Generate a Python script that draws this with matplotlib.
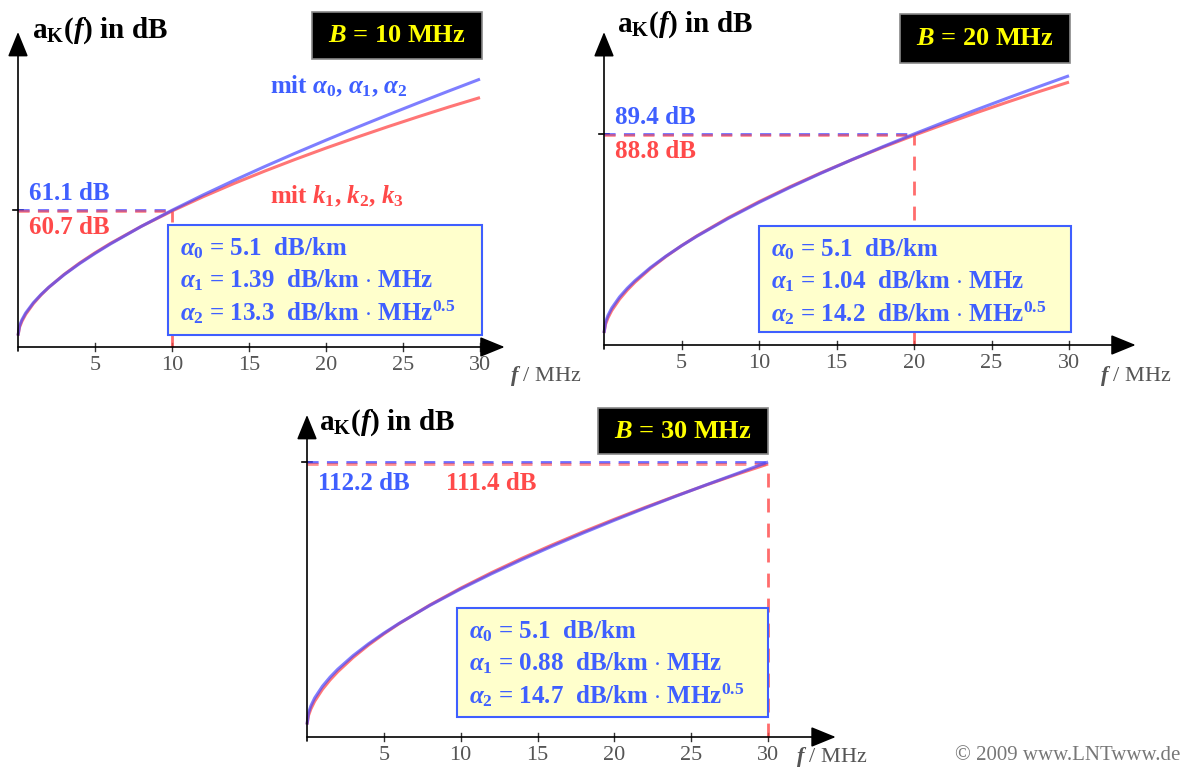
import matplotlib
matplotlib.use('Agg')
import matplotlib.pyplot as plt
from matplotlib.patches import Rectangle

plt.rcParams['font.family'] = 'Liberation Serif'
plt.rcParams['mathtext.fontset'] = 'custom'
plt.rcParams['mathtext.rm'] = 'Liberation Serif:bold'
plt.rcParams['mathtext.it'] = 'Liberation Serif:italic:bold'
plt.rcParams['mathtext.bf'] = 'Liberation Serif:bold'

W, H = 1183, 771

# frequency grid in MHz and attenuation in dB
f = [0, 0.1, 0.25, 0.5, 1, 1.5, 2, 3, 4, 5, 6, 8, 10, 12, 14, 16, 18, 20, 22, 24, 26, 28, 30]
a_red = [5.10, 8.78, 11.41, 14.60, 19.40, 23.27, 26.63, 32.44, 37.50, 42.06, 46.26, 53.87, 60.73,
         67.05, 72.96, 78.51, 83.80, 88.85, 93.68, 98.36, 102.87, 107.24, 111.4]
a_blue_10 = [5.10, 9.44, 12.10, 15.20, 19.79, 23.47, 26.69, 32.31, 37.26, 41.79, 46.02, 53.84, 61.06,
             67.85, 74.32, 80.54, 86.55, 92.38, 98.06, 103.62, 109.06, 114.40, 119.65]
a_blue_20 = [5.10, 9.69, 12.46, 15.66, 20.34, 24.05, 27.26, 32.82, 37.66, 42.05, 46.12, 53.58, 60.40,
             66.77, 72.79, 78.54, 84.06, 89.40, 94.58, 99.63, 104.55, 109.36, 114.08]
a_blue_30 = [5.10, 9.84, 12.67, 15.93, 20.68, 24.42, 27.65, 33.20, 38.02, 42.37, 46.39, 53.72, 60.39,
             66.58, 72.42, 77.98, 83.31, 88.44, 93.41, 98.24, 102.94, 107.53, 112.2]

bandwidths = [10, 20, 30]
blue_at_B = [61.1, 89.4, 112.2]
red_at_B = [60.7, 88.8, 111.4]
alpha1 = ['1.39', '1.04', '0.88']
alpha2 = ['13.3', '14.2', '14.7']
tick_vals = [5, 10, 15, 20, 25, 30]

BLUE_LINE = '#4848ff'
RED_LINE = '#ff4848'
BLUE_TXT = '#3f5fff'
RED_TXT = '#ff4a4a'
GRAY = '#555555'

fig = plt.figure(figsize=(W / 100, H / 100), dpi=100)


def fx(x):
    return x / W


def fy(y):
    return 1 - y / H


def box(x0, y0, x1, y1, fc, ec, lw=1.2):
    r = Rectangle((fx(x0), fy(y1)), fx(x1 - x0), (y1 - y0) / H, transform=fig.transFigure,
                  facecolor=fc, edgecolor=ec, linewidth=lw, zorder=5)
    fig.add_artist(r)


def panel(ox, oy, sx, sy, tipx, tipy, blue, k, ylab_xy, bbox, ybox, lab_pos, flab_xy):
    xmax, ymax = tipx + 1, tipy + 4
    ax = fig.add_axes([fx(ox - 10), fy(oy + 12), (xmax * sx + 10) / W, (ymax * sy + 12) / H])
    ax.set_xlim(-10 / sx, xmax)
    ax.set_ylim(-12 / sy, ymax)
    ax.axis('off')

    ap = dict(arrowstyle='-|>,head_length=1.1,head_width=0.45', color='black', lw=1.2,
              mutation_scale=14, shrinkA=0, shrinkB=0)
    ax.annotate('', xy=(tipx, 0), xytext=(0, 0), arrowprops=ap)
    ax.annotate('', xy=(0, tipy), xytext=(0, -4 / sy), arrowprops=ap)

    for t in tick_vals:
        ax.plot([t, t], [-4 / sy, 4 / sy], color='#333333', lw=1)
        ax.text(t, -18 / sy, str(t), ha='center', va='center', fontsize=16, color=GRAY)

    B = bandwidths[k]
    vb, vr = blue_at_B[k], red_at_B[k]
    ax.plot([-5 / sx, 5 / sx], [vb, vb], color='black', lw=1.2)
    ax.plot([0, B], [vb, vb], color=BLUE_LINE, lw=2, ls=(0, (4, 3)), alpha=0.8)
    ax.plot([0, B], [vr, vr], color=RED_LINE, lw=2, ls=(0, (4, 3)), alpha=0.6)
    ax.plot([B, B], [0, vr], color=RED_LINE, lw=2, ls=(0, (5, 4)), alpha=0.8)

    ax.plot(f, a_red, color=RED_LINE, lw=2.2, alpha=0.75, solid_capstyle='butt')
    ax.plot(f, blue, color=BLUE_LINE, lw=2.2, alpha=0.7, solid_capstyle='butt')

    fig.text(fx(ylab_xy[0]), fy(ylab_xy[1]), r'a$_{\mathbf{K}}$($f$) in dB', fontsize=21,
             fontweight='bold', va='baseline')
    fig.text(fx(flab_xy[0]), fy(flab_xy[1]), r'$\mathit{f}$ / MHz', fontsize=16, color=GRAY,
             va='center')

    # black title box
    box(*bbox, fc='black', ec='#888888')
    fig.text(fx((bbox[0] + bbox[2]) / 2), fy((bbox[1] + bbox[3]) / 2), r'$B$ = %d MHz' % B,
             fontsize=19, fontweight='bold', color='#ffff00', ha='center', va='center', zorder=6)

    # parameter box
    box(*ybox, fc='#ffffcc', ec=BLUE_TXT, lw=1.5)
    lines = [r'$\alpha_0$ = 5.1  dB/km',
             r'$\alpha_1$ = %s  dB/km $\cdot$ MHz' % alpha1[k],
             r'$\alpha_2$ = %s  dB/km $\cdot$ MHz$^{0.5}$' % alpha2[k]]
    for i, s in enumerate(lines):
        fig.text(fx(ybox[0] + 12), fy(ybox[1] + 23 + 32 * i), s, fontsize=18, fontweight='bold',
                 color=BLUE_TXT, va='center', zorder=6)

    (bx, by), (rx, ry) = lab_pos
    fig.text(fx(bx), fy(by), '%.1f dB' % vb, fontsize=18, fontweight='bold', color=BLUE_TXT, va='center')
    fig.text(fx(rx), fy(ry), '%.1f dB' % vr, fontsize=18, fontweight='bold', color=RED_TXT, va='center')
    return ax


panel(18, 347, 15.4, 2.239, 31.6, 140.7, a_blue_10, 0, (32, 38), (312, 12, 482, 59),
      (168, 225, 482, 335), ((29, 193), (29, 227)), (510, 376))
panel(604, 345, 15.5, 2.36, 34.3, 132.6, a_blue_20, 1, (617, 32), (900, 14, 1070, 63),
      (759, 226, 1071, 332), ((615, 118), (615, 151)), (1100, 376))
panel(307, 737, 15.37, 2.451, 34.4, 131.4, a_blue_30, 2, (319, 430), (598, 408, 768, 454),
      (457, 608, 768, 717), ((318, 483), (446, 483)), (796, 757))

fig.text(fx(270), fy(86), r'mit $\alpha_0$, $\alpha_1$, $\alpha_2$', fontsize=18, fontweight='bold',
         color=BLUE_TXT, va='center')
fig.text(fx(270), fy(196), r'mit $k_1$, $k_2$, $k_3$', fontsize=18, fontweight='bold',
         color=RED_TXT, va='center')

fig.text(fx(1180), fy(755), '\u00a9 2009 www.LNTwww.de', fontsize=15, color='#777777',
         ha='right', va='center')

fig.savefig('out.png', dpi=100)
